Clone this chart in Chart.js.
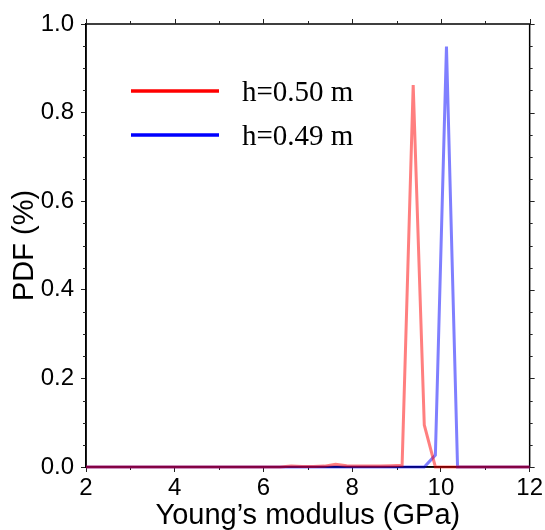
<!DOCTYPE html>
<html>
<head>
<meta charset="utf-8">
<script src="https://cdn.jsdelivr.net/npm/chart.js@4"></script>
<style>
  body { margin: 0; background: #fff; }
</style>
</head>
<body>
<canvas id="pdf_chart" width="545" height="530"></canvas>
<script>
// Young's modulus bins (GPa)
const modulus = [2.0, 2.125, 2.375, 2.625, 2.875, 3.125, 3.375, 3.625, 3.875, 4.125, 4.375,
  4.625, 4.875, 5.125, 5.375, 5.625, 5.875, 6.125, 6.375, 6.625, 6.875, 7.125, 7.375,
  7.625, 7.875, 8.125, 8.375, 8.625, 8.875, 9.125, 9.375, 9.625, 9.875, 10.125, 10.375,
  10.625, 10.875, 11.125, 11.375, 11.625, 11.875, 12.0];

// PDF for h=0.50 m
const pdf050 = [0, 0, 0, 0, 0, 0, 0, 0, 0, 0, 0,
  0, 0, 0, 0, 0, 0, 0, 0, 0.002, 0.001, 0.001, 0.002,
  0.006, 0.003, 0.002, 0.002, 0.002, 0.003, 0.004, 0.862, 0.095, 0, 0, 0,
  0, 0, 0, 0, 0, 0, 0];

// PDF for h=0.49 m
const pdf049 = [0, 0, 0, 0, 0, 0, 0, 0, 0, 0, 0,
  0, 0, 0, 0, 0, 0, 0, 0, 0, 0, 0, 0,
  0, 0, 0, 0, 0, 0, 0, 0, 0, 0.027, 0.949, 0,
  0, 0, 0, 0, 0, 0, 0];

const seriesLabels = ['h=0.50 m', 'h=0.49 m'];

const xMajorTicks = [2, 4, 6, 8, 10, 12];
const xMinorTicks = [3, 5, 7, 9, 11];
const yMajorTicks = [0, 0.2, 0.4, 0.6, 0.8, 1.0];
const yMinorTicks = [0.05, 0.1, 0.15, 0.25, 0.3, 0.35, 0.45, 0.5, 0.55,
  0.65, 0.7, 0.75, 0.85, 0.9, 0.95];

const toPoints = vals => vals.map((v, i) => ({ x: modulus[i], y: v }));

// frame, top/right ticks and minor ticks (GMT style, outward)
const frameTicks = {
  id: 'frameTicks',
  beforeDatasetsDraw(chart) {
    const { ctx, chartArea: a, scales: { x, y } } = chart;
    ctx.save();
    ctx.strokeStyle = '#000';
    ctx.lineWidth = 1.5;
    ctx.strokeRect(a.left, a.top, a.right - a.left, a.bottom - a.top);
    ctx.strokeStyle = '#222';
    ctx.lineWidth = 1;
    ctx.beginPath();
    xMajorTicks.forEach(v => {
      const px = Math.round(x.getPixelForValue(v)) + 0.5;
      ctx.moveTo(px, a.top); ctx.lineTo(px, a.top - 5);
    });
    xMinorTicks.forEach(v => {
      const px = Math.round(x.getPixelForValue(v)) + 0.5;
      ctx.moveTo(px, a.top); ctx.lineTo(px, a.top - 3);
      ctx.moveTo(px, a.bottom); ctx.lineTo(px, a.bottom + 3);
    });
    yMajorTicks.forEach(v => {
      const py = Math.round(y.getPixelForValue(v)) + 0.5;
      ctx.moveTo(a.right, py); ctx.lineTo(a.right + 5, py);
    });
    yMinorTicks.forEach(v => {
      const py = Math.round(y.getPixelForValue(v)) + 0.5;
      ctx.moveTo(a.right, py); ctx.lineTo(a.right + 3, py);
      ctx.moveTo(a.left, py); ctx.lineTo(a.left - 3, py);
    });
    ctx.stroke();
    ctx.restore();
  },
  afterDraw(chart) {
    // legend inside the plot
    const { ctx, chartArea: a } = chart;
    ctx.save();
    ctx.lineWidth = 3.5;
    ctx.font = '29px "Liberation Serif"';
    ctx.fillStyle = '#000';
    ctx.textBaseline = 'alphabetic';
    chart.data.datasets.forEach((ds, i) => {
      const ly = a.top + 67 + i * 44;
      ctx.strokeStyle = ds.legendColor;
      ctx.beginPath();
      ctx.moveTo(a.left + 45, ly); ctx.lineTo(a.left + 133, ly);
      ctx.stroke();
      ctx.fillText(ds.label, a.left + 156, ly + 10);
    });
    ctx.restore();
  }
};

const ctx = document.getElementById('pdf_chart').getContext('2d');
const chart = new Chart(ctx, {
  type: 'line',
  data: {
    datasets: [{
      label: seriesLabels[0],
      data: toPoints(pdf050),
      borderColor: 'rgba(255, 0, 0, 0.5)',
      legendColor: 'rgb(255, 0, 0)',
      borderWidth: 3,
      pointRadius: 0,
      tension: 0,
      clip: false
    }, {
      label: seriesLabels[1],
      data: toPoints(pdf049),
      borderColor: 'rgba(0, 0, 255, 0.5)',
      legendColor: 'rgb(0, 0, 255)',
      borderWidth: 3,
      pointRadius: 0,
      tension: 0,
      clip: false
    }]
  },
  options: {
    responsive: false,
    animation: false,
    layout: { padding: { top: 24, right: 15 } },
    plugins: { legend: { display: false }, tooltip: { enabled: false } },
    scales: {
      x: {
        type: 'linear',
        min: 2,
        max: 12,
        afterBuildTicks: s => { s.ticks = xMajorTicks.map(v => ({ value: v })); },
        afterFit: s => { s.height = 63; },
        ticks: {
          color: '#000',
          padding: 2,
          maxRotation: 0,
          font: { family: '"Liberation Sans"', size: 24 },
          callback: v => String(v)
        },
        grid: { drawOnChartArea: false, tickLength: 5, tickColor: '#222', tickWidth: 1 },
        border: { color: '#000', width: 1.5 },
        title: {
          display: true,
          text: 'Young’s modulus (GPa)',
          color: '#000',
          padding: 0,
          font: { family: '"Liberation Sans"', size: 29, lineHeight: 1.0 }
        }
      },
      y: {
        min: 0,
        max: 1,
        afterBuildTicks: s => { s.ticks = yMajorTicks.map(v => ({ value: v })); },
        afterFit: s => { s.width = 86; },
        ticks: {
          color: '#000',
          padding: 7,
          font: { family: '"Liberation Sans"', size: 24 },
          callback: v => v.toFixed(1)
        },
        grid: { drawOnChartArea: false, tickLength: 5, tickColor: '#222', tickWidth: 1 },
        border: { color: '#000', width: 1.5 },
        title: {
          display: true,
          text: 'PDF (%)',
          color: '#000',
          padding: { top: 8 },
          font: { family: '"Liberation Sans"', size: 29, lineHeight: 1.2 }
        }
      }
    }
  },
  plugins: [frameTicks]
});
</script>
</body>
</html>
